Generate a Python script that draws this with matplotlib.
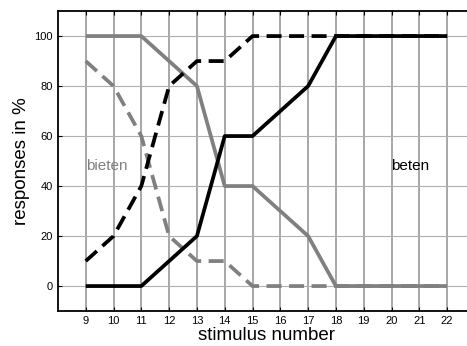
import matplotlib.pyplot as plt
import numpy as np

plt.rcParams['font.family'] = ['Liberation Sans', 'DejaVu Sans']

# stimulus numbers
stim = np.arange(9, 23)

# responses in % per stimulus
bieten_solid = [100, 100, 100, 90, 80, 40, 40, 30, 20, 0, 0, 0, 0, 0]
bieten_dash = [90, 80, 60, 20, 10, 10, 0, 0, 0, 0, 0, 0, 0, 0]
beten_dash = [10, 20, 40, 80, 90, 90, 100, 100, 100, 100, 100, 100, 100, 100]
beten_solid = [0, 0, 0, 10, 20, 60, 60, 70, 80, 100, 100, 100, 100, 100]

fig = plt.figure(figsize=(4.67, 3.46), dpi=100)
ax = fig.add_axes([0.124, 0.101, 0.893, 0.867])

grey = '#808080'
ax.plot(stim, bieten_solid, color=grey, lw=2.7, solid_capstyle='butt')
ax.plot(stim, bieten_dash, color=grey, lw=2.7, dashes=(4.0, 2.0))
ax.plot(stim, beten_dash, color='black', lw=2.7, dashes=(4.0, 2.0))
ax.plot(stim, beten_solid, color='black', lw=2.7, solid_capstyle='butt')

ax.text(9, 48, 'bieten', color=grey, fontsize=11, va='center', ha='left')
ax.text(20.0, 48, 'beten', color='black', fontsize=11, va='center', ha='left')

ax.set_xlim(8, 23)
ax.set_ylim(-10, 110)
ax.set_xticks(stim)
ax.set_yticks([0, 20, 40, 60, 80, 100])
ax.tick_params(direction='in', length=3, labelsize=8, top=True, right=False)
ax.xaxis.grid(True, color='#909090', lw=1.1)
ax.yaxis.grid(True, color='#b0b0b0', lw=0.8)
ax.set_axisbelow(True)
for s in ax.spines.values():
    s.set_linewidth(1.3)

ax.set_xlabel('stimulus number', fontsize=13.5, labelpad=1)
ax.set_ylabel('responses in %', fontsize=13.5, labelpad=3)

plt.savefig('out.png', dpi=100)
